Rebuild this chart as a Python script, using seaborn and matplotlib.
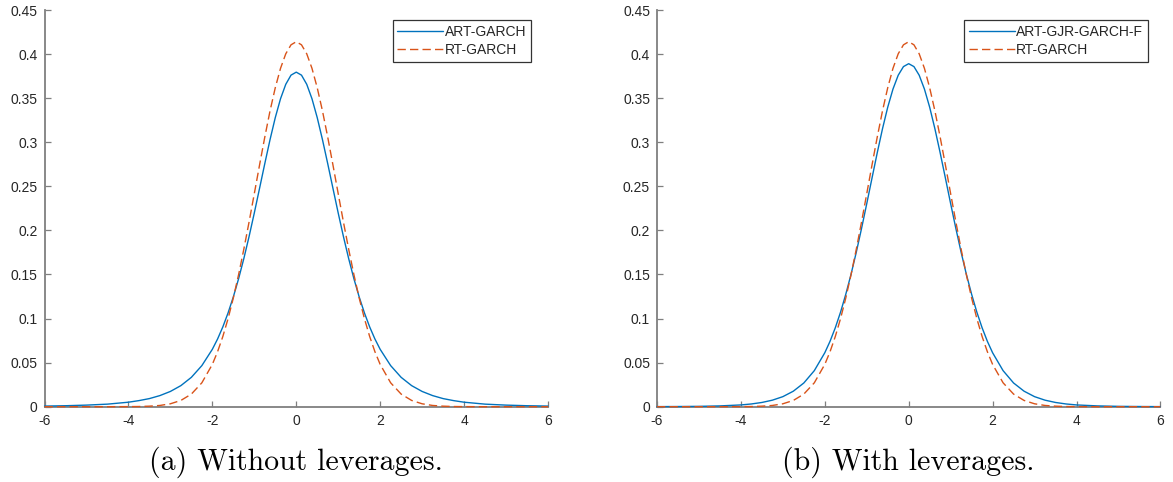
import matplotlib
matplotlib.use("Agg")
import matplotlib.pyplot as plt
import seaborn as sns
import pandas as pd

# ---- data ----
x_vals = [-6, -5.5, -5, -4.5, -4, -3.75, -3.5, -3.25, -3, -2.75, -2.5, -2.25, -2,
          -1.875, -1.75, -1.625, -1.5, -1.375, -1.25, -1.125, -1, -0.875, -0.75,
          -0.625, -0.5, -0.375, -0.25, -0.125, 0, 0.125, 0.25, 0.375, 0.5, 0.625,
          0.75, 0.875, 1, 1.125, 1.25, 1.375, 1.5, 1.625, 1.75, 1.875, 2, 2.25,
          2.5, 2.75, 3, 3.25, 3.5, 3.75, 4, 4.5, 5, 5.5, 6]

art_garch = [0.0007, 0.0011, 0.0018, 0.0029, 0.0051, 0.0069, 0.0092, 0.0126, 0.0173,
             0.0239, 0.0333, 0.0466, 0.0651, 0.0768, 0.0905, 0.1064, 0.1245, 0.1450,
             0.1679, 0.1929, 0.2197, 0.2476, 0.2757, 0.3029, 0.3279, 0.3493, 0.3657,
             0.3761, 0.3795, 0.3761, 0.3657, 0.3493, 0.3279, 0.3029, 0.2757, 0.2476,
             0.2197, 0.1929, 0.1679, 0.1450, 0.1245, 0.1064, 0.0905, 0.0768, 0.0651,
             0.0466, 0.0333, 0.0239, 0.0173, 0.0126, 0.0092, 0.0069, 0.0051, 0.0029,
             0.0018, 0.0011, 0.0007]

art_gjr_garch_f = [0.0001, 0.0002, 0.0004, 0.0009, 0.0020, 0.0031, 0.0048, 0.0074,
                   0.0114, 0.0176, 0.0269, 0.0409, 0.0612, 0.0742, 0.0895, 0.1072,
                   0.1275, 0.1501, 0.1751, 0.2020, 0.2303, 0.2593, 0.2880, 0.3152,
                   0.3397, 0.3603, 0.3760, 0.3858, 0.3891, 0.3858, 0.3760, 0.3603,
                   0.3397, 0.3152, 0.2880, 0.2593, 0.2303, 0.2020, 0.1751, 0.1501,
                   0.1275, 0.1072, 0.0895, 0.0742, 0.0612, 0.0409, 0.0269, 0.0176,
                   0.0114, 0.0074, 0.0048, 0.0031, 0.0020, 0.0009, 0.0004, 0.0002,
                   0.0001]

rt_garch = [0.0, 0.0, 0.0, 0.0, 0.0001, 0.0002, 0.0006, 0.0014, 0.0033, 0.0071,
            0.0143, 0.0271, 0.0480, 0.0624, 0.0796, 0.0999, 0.1233, 0.1496, 0.1785,
            0.2094, 0.2416, 0.2741, 0.3058, 0.3355, 0.3618, 0.3838, 0.4003, 0.4105,
            0.4140, 0.4105, 0.4003, 0.3838, 0.3618, 0.3355, 0.3058, 0.2741, 0.2416,
            0.2094, 0.1785, 0.1496, 0.1233, 0.0999, 0.0796, 0.0624, 0.0480, 0.0271,
            0.0143, 0.0071, 0.0033, 0.0014, 0.0006, 0.0002, 0.0001, 0.0, 0.0, 0.0,
            0.0]

x_ticks = [-6, -4, -2, 0, 2, 4, 6]
x_tick_labels = ["-6", "-4", "-2", "0", "2", "4", "6"]
y_ticks = [0, 0.05, 0.1, 0.15, 0.2, 0.25, 0.3, 0.35, 0.4, 0.45]
y_tick_labels = ["0", "0.05", "0.1", "0.15", "0.2", "0.25", "0.3", "0.35", "0.4", "0.45"]

panel_series = [("ART-GARCH", art_garch), ("ART-GJR-GARCH-F", art_gjr_garch_f)]
captions = ["(a) Without leverages.", "(b) With leverages."]

# ---- style ----
sns.set_style("white")
plt.rcParams["font.family"] = ["Liberation Sans", "DejaVu Sans"]
plt.rcParams["axes.unicode_minus"] = False

BLUE = "#0072BD"
ORANGE = "#D95319"
SPINE = "#7f7f7f"
TXT = "#262626"

W, H = 1173, 482
fig = plt.figure(figsize=(W / 100, H / 100), dpi=100)

axes_px = [(44.5, 548.0), (657.0, 1160.4)]
top_px, bot_px = 10.0, 406.7
legend_right_px = [531, 1148]
legend_top_px = 20

for i, ((name, series), (l, r)) in enumerate(zip(panel_series, axes_px)):
    ax = fig.add_axes([l / W, 1 - bot_px / H, (r - l) / W, (bot_px - top_px) / H])
    df = pd.DataFrame({"x": x_vals, "a": series, "b": rt_garch})
    sns.lineplot(data=df, x="x", y="a", ax=ax, color=BLUE, lw=1.0, label=name,
                 clip_on=False, zorder=3)
    sns.lineplot(data=df, x="x", y="b", ax=ax, color=ORANGE, lw=1.0, label="RT-GARCH",
                 clip_on=False, zorder=3)
    ax.lines[-1].set_dashes((6, 3))

    ax.set_xlim(-6, 6)
    ax.set_ylim(0, 0.45)
    ax.set_xticks(x_ticks)
    ax.set_xticklabels(x_tick_labels)
    ax.set_yticks(y_ticks)
    ax.set_yticklabels(y_tick_labels)
    ax.set_xlabel("")
    ax.set_ylabel("")
    for s in ["top", "right"]:
        ax.spines[s].set_visible(False)
    for s in ["left", "bottom"]:
        ax.spines[s].set_color(SPINE)
        ax.spines[s].set_linewidth(1.3)
    ax.tick_params(direction="in", length=4.5, width=0.9, color=SPINE,
                   labelcolor=TXT, labelsize=10, pad=5, left=True, bottom=True)

    handles, labels = ax.get_legend_handles_labels()
    leg = ax.legend(handles, labels, loc="upper right",
                    bbox_to_anchor=(legend_right_px[i] / W, 1 - legend_top_px / H),
                    bbox_transform=fig.transFigure, borderaxespad=0,
                    fancybox=False, frameon=True, fontsize=10,
                    handlelength=3.3, handletextpad=0.1, labelspacing=0.3,
                    borderpad=0.35, framealpha=1)
    leg.get_frame().set_edgecolor("#333333")
    leg.get_frame().set_linewidth(0.9)
    for t in leg.get_texts():
        t.set_color(TXT)

    cx = (l + r) / 2
    fig.text(cx / W, 1 - 462 / H, captions[i], ha="center", va="center",
             fontsize=21.5, family=["cmr10", "DejaVu Serif"], color="black")

fig.savefig("out.png", dpi=100)
